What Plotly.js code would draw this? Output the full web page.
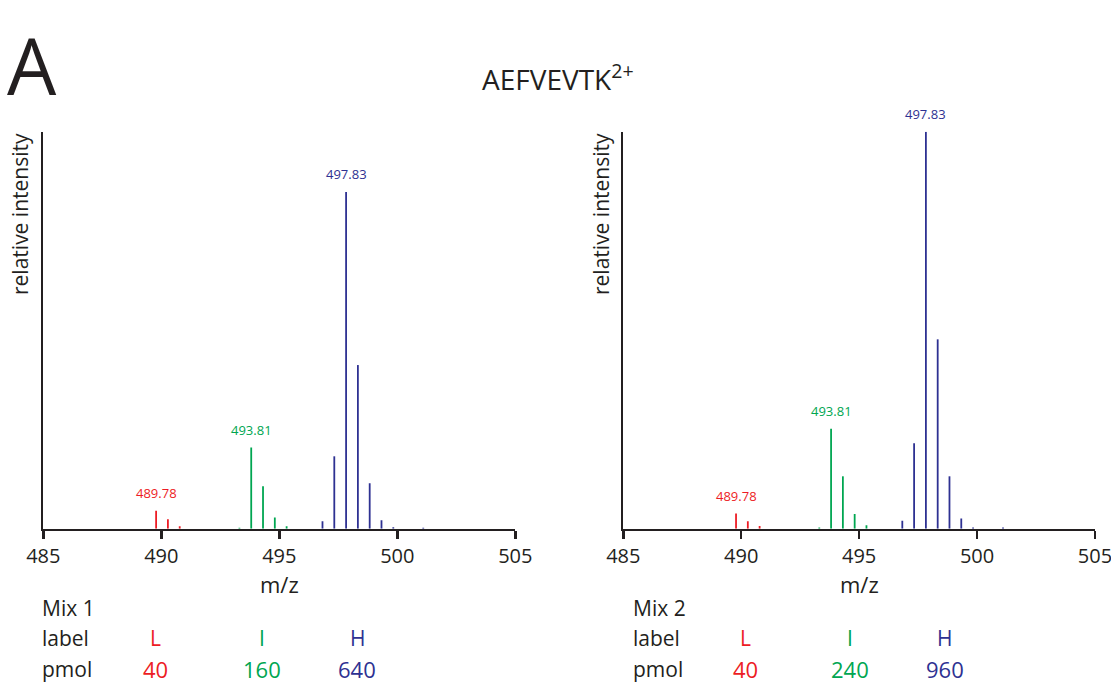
<!DOCTYPE html>
<html>
<head>
<meta charset="utf-8">
<script src="https://cdn.plot.ly/plotly-3.0.1.min.js"></script>
<style>html,body{margin:0;padding:0;background:#fff;}#chart{width:1111px;height:687px;}</style>
</head>
<body>
<div id="chart"></div>
<script>
// m/z positions of isotope peaks for each label
const mzL = [489.78, 490.28, 490.78];
const mzI = [493.31, 493.81, 494.31, 494.81, 495.31];
const mzH = [496.83, 497.33, 497.83, 498.33, 498.83, 499.33, 499.83, 501.10];

// relative intensities (Mix 1 normalised to its own base peak)
const mix1L = [5.3, 2.8, 0.7];
const mix1I = [0.3, 24.1, 12.6, 3.3, 0.7];
const mix1H = [2.2, 21.5, 100, 48.6, 13.5, 2.5, 0.4, 0.3];

const mix2L = [3.8, 1.9, 0.7];
const mix2I = [0.3, 25.2, 13.2, 3.7, 0.9];
const mix2H = [2.0, 21.5, 100, 47.7, 13.2, 2.6, 0.3, 0.3];

// labelled monoisotopic peaks
const peakLabelsMz = [489.78, 493.81, 497.83];
const peakLabelText = ["489.78", "493.81", "497.83"];

const labels = ["L", "I", "H"];
const pmol1 = ["40", "160", "640"];
const pmol2 = ["40", "240", "960"];

const colors = ["#ed1c24", "#00a651", "#2e3192"];
const FONT = "Open Sans, sans-serif";
const INK = "#231f20";

function stems(mz, inten) {
  const xs = [], ys = [];
  for (let i = 0; i < mz.length; i++) {
    xs.push(mz[i], mz[i], null);
    ys.push(0, inten[i], null);
  }
  return {xs, ys};
}

const traces = [];
const mixes = [[mix1L, mix1I, mix1H], [mix2L, mix2I, mix2H]];
const mzs = [mzL, mzI, mzH];
mixes.forEach((mix, m) => {
  mix.forEach((inten, k) => {
    const s = stems(mzs[k], inten);
    traces.push({
      x: s.xs, y: s.ys, type: "scatter", mode: "lines",
      line: {color: colors[k], width: 1.8},
      xaxis: m === 0 ? "x" : "x2", yaxis: m === 0 ? "y" : "y2",
      hoverinfo: "skip", showlegend: false
    });
  });
});

const annotations = [];
// peak labels
mixes.forEach((mix, m) => {
  mix.forEach((inten, k) => {
    const idx = mzs[k].indexOf(peakLabelsMz[k]);
    annotations.push({
      x: peakLabelsMz[k], y: inten[idx],
      xref: m === 0 ? "x" : "x2", yref: m === 0 ? "y" : "y2",
      text: peakLabelText[k], showarrow: false,
      yanchor: "bottom", yshift: 7,
      font: {family: FONT, size: 13, color: colors[k]}
    });
  });
});

function px(x) { return x / 1111; }
function py(y) { return (687 - y) / 687; }

// panel letter and title
annotations.push({x: px(5), y: py(10), xref: "paper", yref: "paper", xanchor: "left", yanchor: "top",
  text: "A", showarrow: false, font: {family: FONT, size: 78, color: INK}});
annotations.push({x: px(558), y: py(77), xref: "paper", yref: "paper", xanchor: "center", yanchor: "middle",
  text: "AEFVEVTK<sup>2+</sup>", showarrow: false, font: {family: FONT, size: 28, color: INK}});

// axis titles
[[20, 279], [601, 859]].forEach(([yx, mx]) => {
  annotations.push({x: px(yx), y: py(214), xref: "paper", yref: "paper", xanchor: "center", yanchor: "middle",
    text: "relative intensity", textangle: -90, showarrow: false, font: {family: FONT, size: 21, color: INK}});
  annotations.push({x: px(mx), y: py(584), xref: "paper", yref: "paper", xanchor: "center", yanchor: "middle",
    text: "m/z", showarrow: false, font: {family: FONT, size: 22, color: INK}});
});

// mix tables
const tables = [
  {name: "Mix 1", x0: 40, cols: [155, 262, 357], pm: pmol1},
  {name: "Mix 2", x0: 631, cols: [745, 850, 945], pm: pmol2}
];
tables.forEach(t => {
  const rows = [[t.name, 608], ["label", 638], ["pmol", 669]];
  rows.forEach(([txt, y]) => {
    annotations.push({x: px(t.x0), y: py(y), xref: "paper", yref: "paper", xanchor: "left", yanchor: "middle",
      text: txt, showarrow: false, font: {family: FONT, size: 21, color: INK}});
  });
  t.cols.forEach((cx, k) => {
    annotations.push({x: px(cx), y: py(638), xref: "paper", yref: "paper", xanchor: "center", yanchor: "middle",
      text: labels[k], showarrow: false, font: {family: FONT, size: 21, color: colors[k]}});
    annotations.push({x: px(cx), y: py(669), xref: "paper", yref: "paper", xanchor: "center", yanchor: "middle",
      text: t.pm[k], showarrow: false, font: {family: FONT, size: 22, color: colors[k]}});
  });
});

const xaxisBase = {
  range: [485, 505], dtick: 5, tick0: 485, showgrid: false, zeroline: false,
  showline: true, linewidth: 2.5, linecolor: INK,
  ticks: "outside", ticklen: 8, tickwidth: 2.5, tickcolor: INK,
  ticklabeloverflow: "allow",
  tickfont: {family: FONT, size: 20, color: INK}, fixedrange: true
};
const yaxisBase = {
  showgrid: false, zeroline: false, showline: true, linewidth: 2.5, linecolor: INK,
  ticks: "", showticklabels: false, fixedrange: true,
  domain: [py(528.7), py(131.7)]
};

const layout = {
  width: 1111, height: 687,
  margin: {l: 0, r: 0, t: 0, b: 0},
  paper_bgcolor: "#ffffff", plot_bgcolor: "#ffffff",
  showlegend: false,
  xaxis: Object.assign({}, xaxisBase, {domain: [px(43.3), px(515.3)], anchor: "y"}),
  xaxis2: Object.assign({}, xaxisBase, {domain: [px(623.3), px(1095)], anchor: "y2"}),
  yaxis: Object.assign({}, yaxisBase, {range: [0, 117.9], anchor: "x"}),
  yaxis2: Object.assign({}, yaxisBase, {range: [0, 100], anchor: "x2"}),
  annotations: annotations
};

Plotly.newPlot("chart", traces, layout, {staticPlot: true, displayModeBar: false});
</script>
</body>
</html>
